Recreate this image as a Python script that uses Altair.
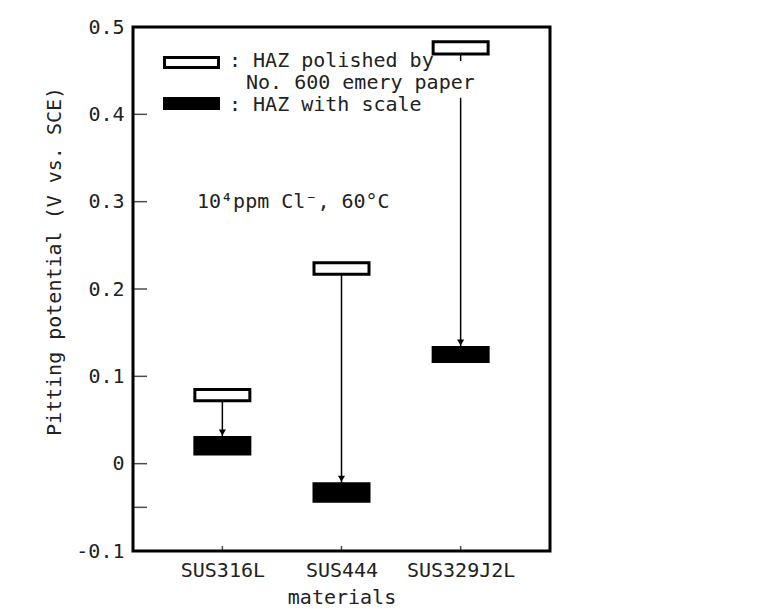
import altair as alt
import pandas as pd

# ---------------- data ----------------
materials = ["SUS316L", "SUS444", "SUS329J2L"]
polished_top = [0.085, 0.230, 0.483]
polished_bottom = [0.072, 0.217, 0.469]
scale_top = [0.030, -0.023, 0.133]
scale_bottom = [0.011, -0.043, 0.117]
conditions = ["polished", "scale"]

# arrow segments (SUS329J2L arrow is interrupted where it crosses the legend text)
arrow_material = ["SUS316L", "SUS444", "SUS329J2L", "SUS329J2L"]
arrow_from = [0.072, 0.217, 0.469, 0.419]
arrow_to = [0.030, -0.023, 0.461, 0.133]

y_label_values = [-0.1, 0.0, 0.1, 0.2, 0.3, 0.4, 0.5]
y_tick_values = [0.4, 0.3, 0.2, 0.1, 0.0, -0.05]
legend_labels = [": HAZ polished by", "No. 600 emery paper", ": HAZ with scale"]
note_text = "10⁴ppm Cl⁻, 60°C"
note_y = 0.3

FONT = "DejaVu Sans Mono"
FS = 20
TXT = "#222222"
W, H = 417, 524

boxes = pd.DataFrame({
    "material": materials * 2,
    "condition": [conditions[0]] * 3 + [conditions[1]] * 3,
    "lo": polished_bottom + scale_bottom,
    "hi": polished_top + scale_top,
})
arrows = pd.DataFrame({"material": arrow_material, "y1": arrow_from, "y2": arrow_to})
heads = pd.DataFrame({"material": materials, "y": scale_top})
yticks = pd.DataFrame({"v": y_tick_values})
xticks = pd.DataFrame({"material": materials})
one = pd.DataFrame({"k": [0]})

xscale = alt.Scale(type="point", domain=materials, padding=0.75)
yscale = alt.Scale(domain=[-0.1, 0.5], nice=False, zero=False)

x_enc = alt.X(
    "material:N", scale=xscale, sort=materials,
    axis=alt.Axis(title="materials", labelFont=FONT, labelFontSize=FS, labelColor=TXT,
                  labelAngle=0, labelPadding=9, ticks=False, tickSize=0, domain=False,
                  titleFont=FONT, titleFontSize=FS, titleFontWeight="normal", titleColor=TXT,
                  titlePadding=7),
)
y_axis = alt.Axis(
    title="Pitting potential (V vs. SCE)", values=y_label_values,
    labelExpr="datum.value == 0 ? '0' : (datum.value < 0 ? '-' + format(-datum.value, '.1f') : format(datum.value, '.1f'))",
    labelFont=FONT, labelFontSize=FS, labelColor=TXT, labelPadding=9,
    ticks=False, tickSize=0, domain=False, grid=False,
    titleFont=FONT, titleFontSize=FS, titleFontWeight="normal", titleColor=TXT,
    titleAngle=270, titleX=-79, titleY=234, titleAlign="center", titleBaseline="middle",
)

bars = alt.Chart(boxes).mark_bar(size=55, stroke="black", strokeWidth=3).encode(
    x=x_enc,
    y=alt.Y("lo:Q", scale=yscale, axis=y_axis),
    y2="hi:Q",
    fill=alt.Fill("condition:N", scale=alt.Scale(domain=conditions, range=["white", "black"]), legend=None),
)

rules = alt.Chart(arrows).mark_rule(color="black", strokeWidth=1.5).encode(
    x=alt.X("material:N", scale=xscale, sort=materials),
    y=alt.Y("y1:Q", scale=yscale),
    y2="y2:Q",
)

arrowheads = alt.Chart(heads).mark_point(shape="triangle-down", filled=True, color="black",
                                         size=50, opacity=1, yOffset=-5).encode(
    x=alt.X("material:N", scale=xscale, sort=materials),
    y=alt.Y("y:Q", scale=yscale),
)

ytick_marks = alt.Chart(yticks).mark_tick(color="black", size=14, thickness=1.5).encode(
    y=alt.Y("v:Q", scale=yscale),
    x=alt.value(7),
)

xtick_marks = alt.Chart(xticks).mark_tick(color="black", size=10, thickness=1.5).encode(
    x=alt.X("material:N", scale=xscale, sort=materials),
    y=alt.value(H - 5),
)

note = alt.Chart(pd.DataFrame({"t": [note_text], "y": [note_y]})).mark_text(
    align="left", baseline="middle", font=FONT, fontSize=FS, color=TXT
).encode(
    x=alt.value(64),
    y=alt.Y("y:Q", scale=yscale),
    text="t:N",
)

# ---- legend (drawn inside the plot as in the original figure) ----
leg_open = alt.Chart(one).mark_rect(fill="white", stroke="black", strokeWidth=3).encode(
    x=alt.value(31.5), x2=alt.value(85.5), y=alt.value(30.5), y2=alt.value(40.5))
leg_fill = alt.Chart(one).mark_rect(fill="black").encode(
    x=alt.value(30), x2=alt.value(87), y=alt.value(70), y2=alt.value(83))


def leg_text(label, px, py):
    return alt.Chart(one).mark_text(align="left", baseline="middle", font=FONT,
                                    fontSize=FS, color=TXT, text=label).encode(
        x=alt.value(px), y=alt.value(py))


leg_t1 = leg_text(legend_labels[0], 96, 34)
leg_t2 = leg_text(legend_labels[1], 113, 56)
leg_t3 = leg_text(legend_labels[2], 96, 78)

chart = alt.layer(bars, rules, arrowheads, ytick_marks, xtick_marks, note,
                  leg_open, leg_fill, leg_t1, leg_t2, leg_t3).properties(
    width=W, height=H,
    autosize=alt.AutoSizeParams(type="none"),
    padding={"left": 133, "top": 27, "right": 760 - 133 - W, "bottom": 609 - 27 - H},
    background="white",
).configure_view(stroke="black", strokeWidth=3)

chart.save("out.html", embed_options={"renderer": "svg", "actions": False})
